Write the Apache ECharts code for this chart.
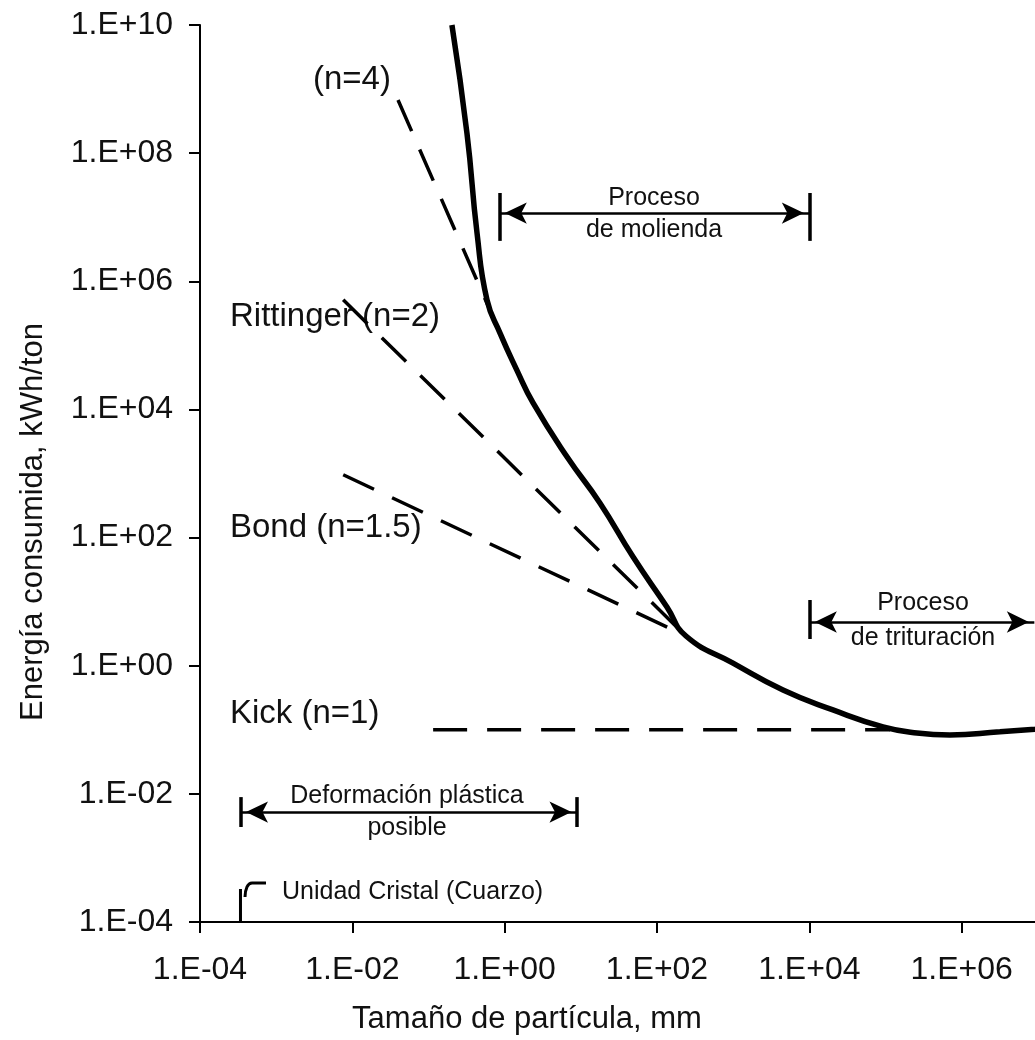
<!DOCTYPE html>
<html>
<head>
<meta charset="utf-8">
<title>Energía consumida vs tamaño de partícula</title>
<script src="https://cdn.jsdelivr.net/npm/echarts@6/dist/echarts.min.js"></script>
<style>
  html, body { margin: 0; padding: 0; background: #fff; }
  #chart { width: 1035px; height: 1040px; }
</style>
</head>
<body>
<div id="chart"></div>
<script>
// curva de energía real (tamaño en mm, energía en kWh/ton)
const curveSize = [0.203, 0.320, 0.434, 0.586, 0.869, 1.45, 2.36, 6.58, 17.8, 48.4, 135, 240, 995, 4.51e3, 2.04e4, 9.27e4, 2.59e5, 7.01e5, 3.18e6, 9.16e6, 1.58e7];
const curveEnergy = [1e10, 2.04e8, 5.62e6, 5.13e5, 1.55e5, 4.07e4, 1.26e4, 1.82e3, 347, 50.1, 8.26, 2.91, 1.10, 0.418, 0.204, 0.111, 0.0891, 0.0832, 0.0933, 0.102, 0.107];

// rectas de las leyes de conminución
const n4Size = [0.0398, 0.703];
const n4Energy = [6.76e8, 2.75e5];
const rittSize = [7.59e-3, 240];
const rittEnergy = [5.13e5, 2.91];
const bondSize = [7.59e-3, 240];
const bondEnergy = [955, 2.91];
const kickSize = [0.115, 1.15e5];
const kickEnergy = [0.1, 0.1];

// rangos de tamaño de las anotaciones
const molienda = [0.85, 1e4];
const trituracion = [1e4, 9e6];
const deformacion = [3.4e-4, 8.9];
const cristalSize = [3.4e-4, 3.4e-4];
const cristalEnergy = [1e-4, 3.27e-4];
const hookSize = [3.9e-4, 4.14e-4, 4.82e-4, 7.35e-4];
const hookEnergy = [2.45e-4, 3.52e-4, 4.06e-4, 4.06e-4];

const xTickLabels = ['1.E-04', '1.E-02', '1.E+00', '1.E+02', '1.E+04', '1.E+06', '1.E+08'];
const yTickLabels = ['1.E-04', '1.E-02', '1.E+00', '1.E+02', '1.E+04', '1.E+06', '1.E+08', '1.E+10'];

const FONT = 'Liberation Sans, Arial, sans-serif';
const pairs = (xs, ys) => xs.map((x, i) => [x, ys[i]]);
const tickLabel = (labels) => (v) => labels[Math.round((Math.log10(v) + 4) / 2)];

const dashed = { color: '#000', width: 3.5, type: [34, 20] };
const solid = { color: '#000', width: 2.5, type: 'solid' };

const arrow = (x0, x1, y) => [
  { coord: [x0, y], symbol: 'arrow', symbolSize: [16, 22], symbolOffset: [0, '25%'] },
  { coord: [x1, y], symbol: 'arrow', symbolSize: [16, 22], symbolOffset: [0, '25%'] },
];
const bar = (x, y0, y1) => [
  { coord: [x, y0], symbol: 'none', lineStyle: { width: 3.5, type: 'solid', color: '#000' } },
  { coord: [x, y1], symbol: 'none' },
];

const chart = echarts.init(document.getElementById('chart'));

chart.setOption({
  animation: false,
  backgroundColor: '#fff',
  grid: { left: 200, top: 25, bottom: 118, right: -79, outerBoundsMode: 'none', containLabel: false },
  xAxis: {
    type: 'log',
    logBase: 100,
    min: 1e-4,
    max: 1e8,
    name: 'Tamaño de partícula, mm',
    nameLocation: 'middle',
    nameGap: 82,
    nameTextStyle: { fontSize: 31, fontFamily: FONT, color: '#111', padding: [0, 260, 0, 0] },
    axisLine: { lineStyle: { color: '#000', width: 2 } },
    axisTick: { length: 11, lineStyle: { color: '#000', width: 2 } },
    minorTick: { show: false },
    splitLine: { show: false },
    axisLabel: { formatter: tickLabel(xTickLabels), fontSize: 32, fontFamily: FONT, color: '#111', margin: 32 },
  },
  yAxis: {
    type: 'log',
    logBase: 100,
    min: 1e-4,
    max: 1e10,
    name: 'Energía consumida, kWh/ton',
    nameLocation: 'middle',
    nameGap: 151,
    nameTextStyle: { fontSize: 31, fontFamily: FONT, color: '#111', padding: [0, 97, 0, 0] },
    axisLine: { show: true, lineStyle: { color: '#000', width: 2 } },
    axisTick: { show: true, length: 11, lineStyle: { color: '#000', width: 2 } },
    splitLine: { show: false },
    axisLabel: { formatter: tickLabel(yTickLabels), fontSize: 32, fontFamily: FONT, color: '#111', margin: 27 },
  },
  series: [
    {
      name: 'Energía', type: 'line', data: pairs(curveSize, curveEnergy),
      smooth: 0.5, showSymbol: false, z: 5,
      lineStyle: { color: '#000', width: 5.5 },
    },
    { name: 'n=4', type: 'line', data: pairs(n4Size, n4Energy), showSymbol: false, lineStyle: dashed },
    { name: 'Rittinger', type: 'line', data: pairs(rittSize, rittEnergy), showSymbol: false, lineStyle: dashed },
    { name: 'Bond', type: 'line', data: pairs(bondSize, bondEnergy), showSymbol: false, lineStyle: dashed },
    {
      name: 'Kick', type: 'line', data: pairs(kickSize, kickEnergy), showSymbol: false, lineStyle: dashed,
      markLine: {
        silent: true,
        label: { show: false },
        lineStyle: solid,
        data: [
          arrow(molienda[0], molienda[1], 1.16e7),
          bar(molienda[0], 2.39e7, 4.27e6),
          bar(molienda[1], 2.39e7, 4.27e6),
          arrow(trituracion[0], trituracion[1], 4.81),
          bar(trituracion[0], 10.6, 2.61),
          arrow(deformacion[0], deformacion[1], 5.2e-3),
          bar(deformacion[0], 8.9e-3, 3.04e-3),
          bar(deformacion[1], 8.9e-3, 3.04e-3),
        ],
      },
    },
    { name: 'Cristal', type: 'line', data: pairs(cristalSize, cristalEnergy), showSymbol: false, lineStyle: { color: '#000', width: 3 } },
    { name: 'CristalHook', type: 'line', data: pairs(hookSize, hookEnergy), smooth: 0.5, showSymbol: false, lineStyle: { color: '#000', width: 3 } },
  ],
  graphic: [
    { type: 'text', x: 313, y: 80, style: { text: '(n=4)', fontSize: 33, fontFamily: FONT, fill: '#111', align: 'left', verticalAlign: 'middle' } },
    { type: 'text', x: 230, y: 317, style: { text: 'Rittinger (n=2)', fontSize: 33, fontFamily: FONT, fill: '#111', align: 'left', verticalAlign: 'middle' } },
    { type: 'text', x: 230, y: 528, style: { text: 'Bond (n=1.5)', fontSize: 33, fontFamily: FONT, fill: '#111', align: 'left', verticalAlign: 'middle' } },
    { type: 'text', x: 230, y: 714, style: { text: 'Kick (n=1)', fontSize: 33, fontFamily: FONT, fill: '#111', align: 'left', verticalAlign: 'middle' } },
    { type: 'text', x: 654, y: 198, style: { text: 'Proceso', fontSize: 25, fontFamily: FONT, fill: '#111', align: 'center', verticalAlign: 'middle' } },
    { type: 'text', x: 654, y: 230, style: { text: 'de molienda', fontSize: 25, fontFamily: FONT, fill: '#111', align: 'center', verticalAlign: 'middle' } },
    { type: 'text', x: 923, y: 603, style: { text: 'Proceso', fontSize: 25, fontFamily: FONT, fill: '#111', align: 'center', verticalAlign: 'middle' } },
    { type: 'text', x: 923, y: 638, style: { text: 'de trituración', fontSize: 25, fontFamily: FONT, fill: '#111', align: 'center', verticalAlign: 'middle' } },
    { type: 'text', x: 407, y: 796, style: { text: 'Deformación plástica', fontSize: 25, fontFamily: FONT, fill: '#111', align: 'center', verticalAlign: 'middle' } },
    { type: 'text', x: 407, y: 828, style: { text: 'posible', fontSize: 25, fontFamily: FONT, fill: '#111', align: 'center', verticalAlign: 'middle' } },
    { type: 'text', x: 282, y: 892, style: { text: 'Unidad Cristal (Cuarzo)', fontSize: 25, fontFamily: FONT, fill: '#111', align: 'left', verticalAlign: 'middle' } },
  ],
});
</script>
</body>
</html>
